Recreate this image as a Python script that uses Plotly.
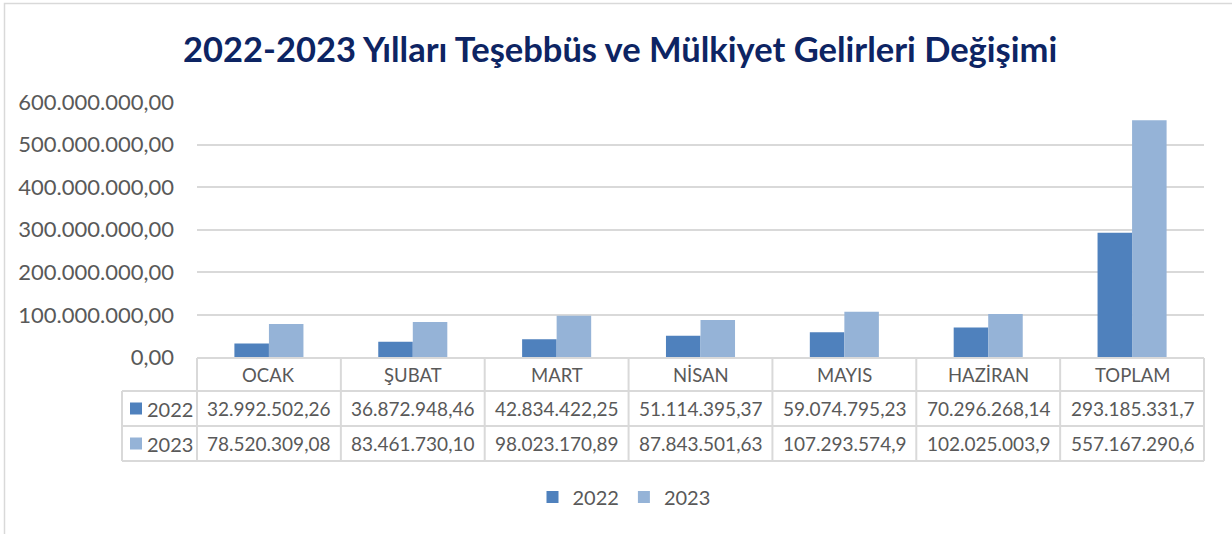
import plotly.graph_objects as go

# ---------------- data ----------------
categories = ["OCAK", "ŞUBAT", "MART", "NİSAN", "MAYIS", "HAZİRAN", "TOPLAM"]
series_names = ["2022", "2023"]
values_2022 = [32992502.26, 36872948.46, 42834422.25, 51114395.37, 59074795.23, 70296268.14, 293185331.71]
values_2023 = [78520309.08, 83461730.10, 98023170.89, 87843501.63, 107293574.90, 102025003.90, 557167290.60]
y_ticks = [0, 100000000, 200000000, 300000000, 400000000, 500000000, 600000000]
title_text = "2022-2023 Yılları Teşebbüs ve Mülkiyet Gelirleri Değişimi"

# ---------------- styling ----------------
W, H = 1232, 534
FONT = "Lato"
TXT = "#595959"
GRID = "#d9d9d9"
C2022 = "#4f81bd"
C2023 = "#95b3d7"

PLOT_L, PLOT_R = 197, 1204
PLOT_T, PLOT_B = 102, 357.5
ROW_LINES = [358, 391, 426, 461]
LEG_COL_L = 122


def px(x):
    return x / W


def py(y):
    return 1 - y / H


def tr(v, dec=2):
    s = f"{v:,.{dec}f}"
    return s.replace(",", "X").replace(".", ",").replace("X", ".")


def cell(v):
    s = tr(v, 2)
    if len(s) > 13:
        s = tr(v, 1)
    return s


fig = go.Figure()
fig.add_trace(go.Bar(x=categories, y=values_2022, name=series_names[0],
                     marker=dict(color=C2022, line=dict(width=0))))
fig.add_trace(go.Bar(x=categories, y=values_2023, name=series_names[1],
                     marker=dict(color=C2023, line=dict(width=0))))

shapes = []
# outer frame
shapes.append(dict(type="rect", xref="paper", yref="paper",
                   x0=px(4.5), x1=px(1245), y0=py(3.5), y1=py(545),
                   line=dict(color=GRID, width=1.5), layer="below"))

# table lines
colw = (PLOT_R - PLOT_L) / len(categories)
shapes.append(dict(type="line", xref="paper", yref="paper",
                   x0=px(PLOT_L), x1=px(PLOT_R), y0=py(ROW_LINES[0]), y1=py(ROW_LINES[0]),
                   line=dict(color=GRID, width=2)))
for yl in ROW_LINES[1:]:
    shapes.append(dict(type="line", xref="paper", yref="paper",
                       x0=px(LEG_COL_L), x1=px(PLOT_R), y0=py(yl), y1=py(yl),
                       line=dict(color=GRID, width=2)))
shapes.append(dict(type="line", xref="paper", yref="paper",
                   x0=px(LEG_COL_L), x1=px(LEG_COL_L), y0=py(ROW_LINES[1]), y1=py(ROW_LINES[-1]),
                   line=dict(color=GRID, width=2)))
for i in range(len(categories) + 1):
    xl = PLOT_L + i * colw
    shapes.append(dict(type="line", xref="paper", yref="paper",
                       x0=px(xl), x1=px(xl), y0=py(ROW_LINES[0]), y1=py(ROW_LINES[-1]),
                       line=dict(color=GRID, width=2)))

annotations = []
hy = (ROW_LINES[0] + ROW_LINES[1]) / 2
for c in categories:
    annotations.append(dict(x=c, xref="x", y=py(hy), yref="paper", text=c,
                            showarrow=False, xanchor="center", yanchor="middle",
                            font=dict(family=FONT, size=18.5, color=TXT)))

rows = [(series_names[0], values_2022, C2022), (series_names[1], values_2023, C2023)]
for r, (nm, vals, col) in enumerate(rows):
    yc = (ROW_LINES[r + 1] + ROW_LINES[r + 2]) / 2
    shapes.append(dict(type="rect", xref="paper", yref="paper",
                       x0=px(130), x1=px(142), y0=py(yc - 6), y1=py(yc + 6),
                       fillcolor=col, line=dict(width=0)))
    annotations.append(dict(x=px(145), xref="paper", y=py(yc), yref="paper", text=nm,
                            showarrow=False, xanchor="left", yanchor="middle",
                            font=dict(family=FONT, size=20, color=TXT)))
    for c, v in zip(categories, vals):
        annotations.append(dict(x=c, xref="x", y=py(yc), yref="paper", text=cell(v),
                                showarrow=False, xanchor="center", yanchor="middle",
                                font=dict(family=FONT, size=19, color=TXT)))

annotations.append(dict(x=px(620), xref="paper", y=py(48), yref="paper", text="<b>" + title_text + "</b>",
                        showarrow=False, xanchor="center", yanchor="middle",
                        font=dict(family=FONT, size=34.5, color="#0d2463")))

fig.update_layout(
    template="none",
    width=W, height=H,
    margin=dict(l=0, r=0, t=0, b=0, pad=0, autoexpand=False),
    paper_bgcolor="white", plot_bgcolor="white",
    barmode="group", bargap=0.52, bargroupgap=0,
    font=dict(family=FONT, color=TXT),
    xaxis=dict(domain=[px(PLOT_L), px(PLOT_R)], showticklabels=False, showgrid=False,
               showline=False, zeroline=False, range=[-0.5, 6.5], fixedrange=True,
               automargin=False, ticks=""),
    yaxis=dict(domain=[py(PLOT_B), py(PLOT_T)], range=[0, 600000000],
               tickvals=y_ticks, ticktext=[tr(v) for v in y_ticks],
               showgrid=True, gridcolor=GRID, gridwidth=1.8, zeroline=False,
               showline=False, ticks="", ticklabelstandoff=22, automargin=False,
               tickfont=dict(family=FONT, size=22, color=TXT)),
    legend=dict(orientation="h", x=px(624), xanchor="center", y=py(497), yanchor="middle",
                font=dict(family=FONT, size=20, color=TXT), itemwidth=30,
                bgcolor="rgba(0,0,0,0)", borderwidth=0),
    showlegend=True,
    shapes=shapes,
    annotations=annotations,
)

fig.write_html("out.html", config={"displayModeBar": False},
               post_script="document.body.style.margin='0';")
